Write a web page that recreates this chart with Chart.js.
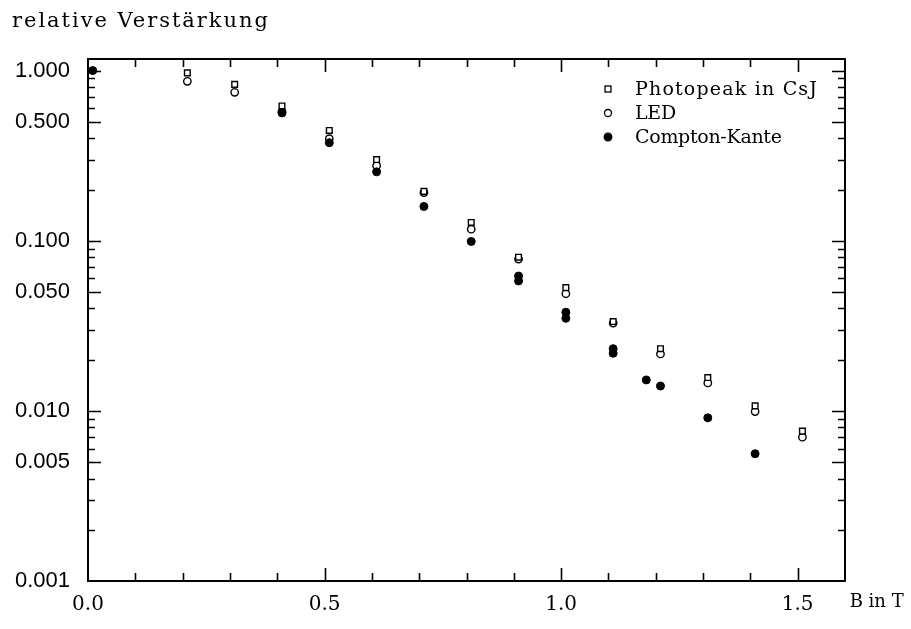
<!DOCTYPE html>
<html>
<head>
<meta charset="utf-8">
<script src="https://cdn.jsdelivr.net/npm/chart.js@4.4.1/dist/chart.umd.min.js"></script>
<style>
  html, body { margin: 0; padding: 0; background: #fff; }
  #wrap { width: 911px; height: 629px; position: relative; }
</style>
</head>
<body>
<div id="wrap"><canvas id="c" width="911" height="629"></canvas></div>
<script>
// ---- data ----
const photoB   = [0.21, 0.31, 0.41, 0.51, 0.61, 0.71, 0.81, 0.91, 1.01, 1.11, 1.21, 1.31, 1.41, 1.51];
const photoV   = [0.97, 0.83, 0.62, 0.445, 0.300, 0.195, 0.128, 0.080, 0.053, 0.0335, 0.0232, 0.0157, 0.0107, 0.0076];
const ledB     = [0.21, 0.31, 0.41, 0.51, 0.61, 0.71, 0.81, 0.91, 1.01, 1.11, 1.21, 1.31, 1.41, 1.51];
const ledV     = [0.865, 0.745, 0.575, 0.398, 0.276, 0.192, 0.117, 0.078, 0.0488, 0.0328, 0.0216, 0.0146, 0.0099, 0.0070];
const comptonB = [0.01, 0.41, 0.51, 0.61, 0.71, 0.81, 0.91, 0.91, 1.01, 1.01, 1.11, 1.11, 1.18, 1.21, 1.31, 1.41];
const comptonV = [1.0, 0.564, 0.377, 0.254, 0.159, 0.099, 0.062, 0.058, 0.038, 0.035, 0.0232, 0.0218, 0.0152, 0.0140, 0.0091, 0.0056];

const seriesNames = ["Photopeak in CsJ", "LED", "Compton-Kante"];
const yTickValues = [1.0, 0.5, 0.1, 0.05, 0.01, 0.005, 0.001];
const xTickValues = [0.0, 0.5, 1.0, 1.5];
const yTitle = "relative Verstärkung";
const xTitle = "B in T";

const pts = (xs, ys) => xs.map((x, i) => ({x: x, y: ys[i]}));

function fitText(ctx, text, x, y, width) {
  ctx.letterSpacing = "0px";
  const w = ctx.measureText(text).width;
  const ls = Math.max(-0.3, (width - w) / Math.max(1, text.length - 1));
  ctx.letterSpacing = ls.toFixed(2) + "px";
  ctx.fillText(text, x, y);
  ctx.letterSpacing = "0px";
}

const framePlugin = {
  id: 'frame',
  afterDraw(chart) {
    const ctx = chart.ctx;
    const a = chart.chartArea;
    const xs = chart.scales.x, ys = chart.scales.y;
    ctx.save();
    ctx.strokeStyle = '#000';
    ctx.lineWidth = 2;
    ctx.strokeRect(a.left, a.top, a.right - a.left, a.bottom - a.top);
    ctx.lineWidth = 1.6;
    ctx.beginPath();
    // x ticks every 0.1, inward on bottom and top
    for (let k = 1; k <= 15; k++) {
      const v = k / 10;
      const px = Math.round(xs.getPixelForValue(v)) + 0.5;
      const major = (k % 5 === 0);
      const len = major ? 13 : 8;
      ctx.moveTo(px, a.bottom); ctx.lineTo(px, a.bottom - len);
      ctx.moveTo(px, a.top); ctx.lineTo(px, a.top + len);
    }
    // y ticks: all integer multiples within each decade
    for (let d = -3; d <= 0; d++) {
      for (let m = 1; m <= 9; m++) {
        const v = m * Math.pow(10, d);
        if (v <= ys.min * 1.0001 || v > ys.max) continue;
        const py = Math.round(ys.getPixelForValue(v)) + 0.5;
        const major = yTickValues.some(t => Math.abs(t - v) / t < 1e-6);
        const len = major ? 13 : 7;
        ctx.moveTo(a.left, py); ctx.lineTo(a.left + len, py);
        ctx.moveTo(a.right, py); ctx.lineTo(a.right - len, py);
      }
    }
    ctx.stroke();

    // axis titles
    ctx.fillStyle = '#000';
    ctx.textBaseline = 'middle';
    ctx.textAlign = 'left';
    ctx.font = '21px "DejaVu Serif"';
    fitText(ctx, yTitle, 12, 22, 256);
    ctx.font = '18px "DejaVu Serif"';
    fitText(ctx, xTitle, xs.getPixelForValue(1.5) + 52, 602, 54);

    // legend
    const lx = 608, ly0 = 89, dy = 24;
    ctx.font = '19px "DejaVu Serif"';
    chart.data.datasets.forEach((ds, i) => {
      const y = ly0 + i * dy;
      ctx.lineWidth = 1.3;
      ctx.strokeStyle = '#000';
      if (ds.pointStyle === 'rect') {
        ctx.fillStyle = '#fff';
        ctx.fillRect(lx - 3, y - 3, 6, 6);
        ctx.strokeRect(lx - 3, y - 3, 6, 6);
      } else {
        ctx.beginPath();
        ctx.arc(lx, y, ds.pointRadius - 0.2, 0, Math.PI * 2);
        ctx.fillStyle = ds.pointBackgroundColor;
        ctx.fill();
        ctx.stroke();
      }
      ctx.fillStyle = '#000';
      const widths = [182, 34, 146];
      fitText(ctx, ds.label, 635, y + 1, widths[i]);
    });
    ctx.restore();
  }
};

new Chart(document.getElementById('c'), {
  type: 'scatter',
  data: {
    datasets: [
      { label: seriesNames[0], data: pts(photoB, photoV), pointStyle: 'rect', pointRadius: 4.0,
        pointBackgroundColor: '#fff', pointBorderColor: '#000', pointBorderWidth: 1.4, order: 0 },
      { label: seriesNames[1], data: pts(ledB, ledV), pointStyle: 'circle', pointRadius: 3.7,
        pointBackgroundColor: '#fff', pointBorderColor: '#000', pointBorderWidth: 1.4, order: 2 },
      { label: seriesNames[2], data: pts(comptonB, comptonV), pointStyle: 'circle', pointRadius: 4.0,
        pointBackgroundColor: '#000', pointBorderColor: '#000', pointBorderWidth: 1, order: 1 }
    ]
  },
  options: {
    responsive: false,
    animation: false,
    devicePixelRatio: 1,
    layout: { padding: { left: 0, top: 59, right: 66, bottom: 0 } },
    plugins: { legend: { display: false }, tooltip: { enabled: false }, title: { display: false } },
    scales: {
      x: {
        type: 'linear', min: 0, max: 1.6,
        grid: { display: false, drawTicks: false },
        border: { display: false },
        afterBuildTicks: s => { s.ticks = xTickValues.map(v => ({ value: v })); },
        afterFit: s => { s.height = 48; },
        ticks: {
          autoSkip: false, maxRotation: 0, padding: 12, color: '#000',
          font: { family: 'DejaVu Serif', size: 20 },
          callback: v => Number(v).toFixed(1)
        }
      },
      y: {
        type: 'logarithmic', min: 0.001, max: 1.17,
        grid: { display: false, drawTicks: false },
        border: { display: false },
        afterBuildTicks: s => { s.ticks = yTickValues.map(v => ({ value: v })); },
        afterFit: s => { s.width = 88; },
        ticks: {
          autoSkip: false, padding: 18, color: '#000',
          font: { family: 'Liberation Sans', size: 22 },
          callback: v => Number(v).toFixed(3)
        }
      }
    }
  },
  plugins: [framePlugin]
});
</script>
</body>
</html>
